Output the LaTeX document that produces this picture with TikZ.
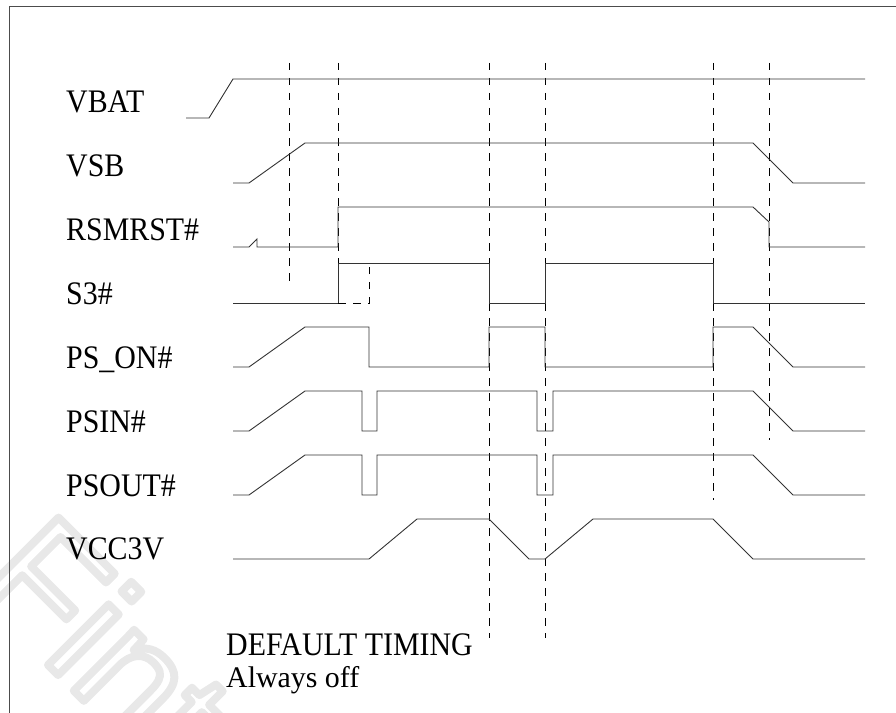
\documentclass[tikz,border=0pt]{standalone}
\usepackage{fontspec}
\setmainfont{Liberation Serif}
\newfontfamily\markfont{Liberation Sans}
\usetikzlibrary{positioning}

\begin{document}
\begin{tikzpicture}[
    x=1bp, y=-1bp,
    wave/.style={draw, black!80, line width=0.9bp, line join=miter},
    guide/.style={draw, black, line width=0.7bp, dash pattern=on 7.5bp off 7.5bp},
    signame/.style={anchor=base west, inner sep=0, font=\fontsize{30}{30}\selectfont},
    watermark/.style={anchor=base west, inner sep=0, rotate=-45, text=black!9},
    frame/.style={draw, black!70, line width=1bp}]
\useasboundingbox (0,0) rectangle (896,713);

% watermark, outlined letters
\node[watermark] (logo) at (-30,587)
  {\markfont\fontsize{163}{163}\selectfont\special{pdf:literal direct q 1 Tr 8 w 1 j}Fintek\special{pdf:literal direct Q}};

\path[frame] (9,713) -- (9,7) -- (896,7);

% signal names
\foreach \y/\name/\txt in {113/vbat/VBAT, 177/vsb/VSB, 240/rsmrst/RSMRST\#, 304/sthree/S3\#,
    368/pson/PS\_ON\#, 432/psin/PSIN\#, 496/psout/PSOUT\#, 559/vcc/VCC3V}
  \node[signame] (\name) at (66,\y) {\scalebox{1}[1.1]{\txt}};

% guides
\foreach \x/\yend in {289/285, 338/303, 489/638, 545/638, 713/500, 769/440}
  \path[guide] (\x,63) -- (\x,\yend);

% waveforms
\path[wave] (186,118) -- (209,118) -- (233,79) -- (865,79);
\path[wave] (233,183) -- (249,183) -- (305,143) -- (753,143) -- (793,183) -- (865,183);
\path[wave] (233,247) -- (249,247) -- (257,239) -- (257,247) -- (338,247) -- (338,207)
    -- (753,207) -- (769,222) -- (769,247) -- (865,247);
\path[wave] (233,303) -- (338,303) -- (338,263) -- (489,263) -- (489,303) -- (545,303)
    -- (545,263) -- (713,263) -- (713,303) -- (865,303);
\path[guide] (338,303) -- (369,303) -- (369,265);
\path[wave] (233,367) -- (249,367) -- (305,327) -- (369,327) -- (369,367) -- (489,367)
    -- (489,327) -- (545,327) -- (545,367) -- (713,367) -- (713,327) -- (753,327)
    -- (793,367) -- (865,367);
\foreach \hi/\lo in {391/431, 455/495}
  \path[wave] (233,\lo) -- (249,\lo) -- (305,\hi) -- (362,\hi) -- (362,\lo) -- (377,\lo)
    -- (377,\hi) -- (537,\hi) -- (537,\lo) -- (553,\lo) -- (553,\hi) -- (753,\hi)
    -- (793,\lo) -- (865,\lo);
\path[wave] (233,559) -- (369,559) -- (417,519) -- (489,519) -- (529,559) -- (545,559)
    -- (593,519) -- (713,519) -- (753,559) -- (865,559);

% note
\node[signame] (deftiming) at (226,655) {\scalebox{1}[1.1]{DEFAULT TIMING}};
\node[signame] (alwaysoff) at (226,687) {Always off};
\end{tikzpicture}
\end{document}
